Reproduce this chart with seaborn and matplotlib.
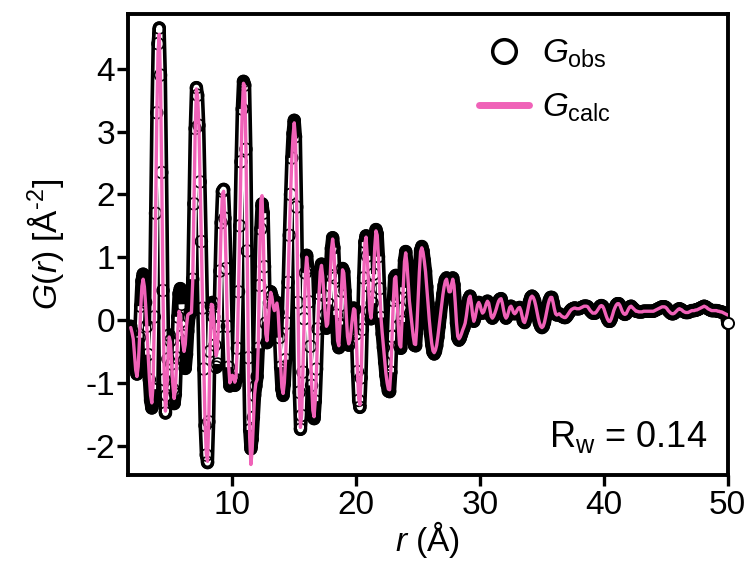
import numpy as np
import pandas as pd
import matplotlib
matplotlib.use("Agg")
import matplotlib.pyplot as plt
from matplotlib.lines import Line2D
import seaborn as sns

# ---------------- data ----------------
R_START = 1.8      # first r value (Angstrom)
R_STEP = 0.1       # grid step (Angstrom)

G_calc = [
    -0.12, -0.20,
    -0.30, -0.55, -0.80, -0.90, -0.74, -0.33, 0.17, 0.54, 0.65, 0.53,
    0.24, -0.12, -0.55, -0.91, -1.20, -1.32, -1.04, 0.03, 1.62, 3.20,
    4.26, 4.55, 3.80, 2.30, 0.47, -0.91, -1.45, -1.19, -0.63, -0.27,
    -0.35, -0.68, -1.04, -1.25, -1.12, -0.67, -0.15, 0.14, 0.08, -0.13,
    -0.37, -0.50, -0.39, -0.09, 0.08, 0.10, 0.11, 0.12, 0.60, 1.80,
    3.00, 3.68, 3.56, 3.10, 2.20, 1.25, 0.19, -0.77, -1.66, -2.13,
    -2.25, -1.59, -0.47, 0.25, 0.24, -0.03, -0.37, -0.57, -0.47, 0.03,
    0.81, 1.53, 2.01, 2.05, 1.60, 0.82, -0.07, -0.72, -1.00, -0.95,
    -0.88, -0.90, -0.99, -0.91, -0.42, 0.45, 1.50, 2.52, 3.34, 3.77,
    3.72, 2.72, 1.13, -0.65, -1.87, -2.30, -2.08, -1.62, -1.18, -1.00,
    -0.95, -0.38, 0.89, 1.90, 1.98, 1.34, 0.45, -0.22, -0.33, -0.06,
    0.28, 0.44, 0.37, 0.22, 0.15, 0.21, 0.27, 0.13, -0.26, -0.72,
    -1.07, -1.17, -1.00, -0.63, -0.05, 0.60, 1.34, 1.98, 2.55, 2.93,
    3.14, 2.89, 1.79, 0.28, -1.13, -1.71, -1.50, -0.82, 0.02, 0.73,
    1.00, 0.81, 0.29, -0.40, -1.01, -1.44, -1.54, -1.27, -0.77, -0.14,
    0.41, 0.77, 0.87, 0.69, 0.39, 0.09, -0.10, -0.06, 0.25, 0.70,
    1.12, 1.29, 1.13, 0.67, 0.09, -0.33, -0.41, -0.06, 0.45, 0.80,
    0.75, 0.46, 0.08, -0.26, -0.38, -0.32, -0.15, 0.04, 0.18, 0.16,
    -0.21, -0.80, -1.25, -1.35, -0.90, -0.15, 0.66, 1.22, 1.32, 1.00,
    0.54, 0.15, 0.03, 0.27, 0.72, 1.16, 1.42, 1.35, 1.00, 0.50,
    0.05, -0.20, -0.42, -0.65, -0.85, -1.00, -1.10, -1.11, -0.81, -0.26,
    0.30, 0.66, 0.69, 0.35, -0.09, -0.39, -0.43, -0.02, 0.51, 0.93,
    1.07, 0.90, 0.60, 0.30, 0.12, -0.05, -0.25, -0.38, -0.39, -0.11,
    0.33, 0.76, 1.09, 1.15, 1.08, 0.94, 0.77, 0.53, 0.27, 0.01,
    -0.20, -0.37, -0.49, -0.52, -0.48, -0.40, -0.26, -0.10, 0.07, 0.24,
    0.40, 0.53, 0.62, 0.65, 0.55, 0.45, 0.45, 0.57, 0.65, 0.55,
    0.28, -0.04, -0.26, -0.30, -0.27, -0.22, -0.16, -0.11, -0.05, 0.07,
    0.22, 0.34, 0.38, 0.27, 0.08, -0.02, 0.04, 0.14, 0.24, 0.28,
    0.24, 0.16, 0.11, 0.13, 0.19, 0.26, 0.30, 0.27, 0.17, 0.06,
    0.03, 0.06, 0.11, 0.17, 0.24, 0.30, 0.33, 0.34, 0.27, 0.16,
    0.07, 0.03, 0.06, 0.13, 0.20, 0.22, 0.18, 0.12, 0.10, 0.12,
    0.16, 0.19, 0.20, 0.15, 0.06, -0.02, -0.04, 0.02, 0.10, 0.20,
    0.30, 0.36, 0.38, 0.36, 0.31, 0.23, 0.13, 0.03, -0.05, -0.10,
    -0.12, -0.10, -0.04, 0.05, 0.15, 0.25, 0.32, 0.36, 0.36, 0.28,
    0.18, 0.10, 0.08, 0.09, 0.10, 0.08, 0.06, 0.05, 0.04, 0.04,
    0.06, 0.09, 0.12, 0.15, 0.17, 0.18, 0.19, 0.19, 0.18, 0.18,
    0.18, 0.19, 0.20, 0.21, 0.22, 0.22, 0.22, 0.21, 0.18, 0.15,
    0.13, 0.11, 0.11, 0.11, 0.13, 0.16, 0.19, 0.22, 0.23, 0.22,
    0.18, 0.12, 0.06, 0.01, -0.02, -0.02, 0.02, 0.08, 0.15, 0.20,
    0.24, 0.26, 0.26, 0.23, 0.18, 0.13, 0.10, 0.09, 0.10, 0.14,
    0.18, 0.21, 0.22, 0.20, 0.18, 0.16, 0.14, 0.14, 0.13, 0.13,
    0.13, 0.13, 0.14, 0.14, 0.14, 0.14, 0.14, 0.14, 0.14, 0.14,
    0.14, 0.15, 0.16, 0.17, 0.18, 0.19, 0.20, 0.21, 0.21, 0.21,
    0.20, 0.18, 0.15, 0.13, 0.11, 0.10, 0.10, 0.11, 0.13, 0.15,
    0.17, 0.18, 0.17, 0.16, 0.14, 0.13, 0.12, 0.12, 0.12, 0.13,
    0.14, 0.15, 0.15, 0.15, 0.16, 0.16, 0.17, 0.18, 0.19, 0.20,
    0.21, 0.22, 0.21, 0.20, 0.18, 0.17, 0.16, 0.15, 0.15, 0.15,
    0.15, 0.15, 0.14, 0.14, 0.13, 0.13, 0.12, 0.11, 0.10, 0.09,
    0.08,
]

G_obs = [
    -0.10, -0.18,
    -0.30, -0.55, -0.78, -0.86, -0.70, -0.28, 0.22, 0.62, 0.73, 0.60,
    0.28, -0.10, -0.55, -0.95, -1.28, -1.40, -1.10, 0.05, 1.70, 3.30,
    4.40, 4.65, 3.90, 2.35, 0.47, -0.95, -1.48, -1.20, -0.62, -0.24,
    -0.33, -0.70, -1.10, -1.33, -1.18, -0.60, 0.05, 0.42, 0.50, 0.25,
    -0.25, -0.65, -0.77, -0.55, -0.18, 0.05, 0.12, 0.20, 0.65, 1.85,
    3.05, 3.70, 3.58, 3.10, 2.20, 1.25, 0.19, -0.78, -1.68, -2.15,
    -2.27, -1.62, -0.50, 0.22, 0.28, 0.05, -0.40, -0.75, -0.70, -0.10,
    0.78, 1.55, 2.05, 2.08, 1.62, 0.82, -0.10, -0.75, -1.05, -1.00,
    -0.92, -0.95, -1.04, -0.95, -0.45, 0.45, 1.50, 2.52, 3.36, 3.80,
    3.74, 2.72, 1.10, -0.60, -1.75, -2.05, -1.90, -1.55, -1.20, -1.05,
    -0.90, -0.45, 0.55, 1.45, 1.85, 1.70, 0.85, -0.05, -0.36, -0.10,
    0.28, 0.45, 0.38, 0.24, 0.17, 0.23, 0.28, 0.12, -0.28, -0.75,
    -1.10, -1.20, -1.02, -0.63, -0.05, 0.60, 1.35, 2.00, 2.58, 2.97,
    3.18, 2.92, 1.80, 0.28, -1.15, -1.74, -1.52, -0.83, 0.02, 0.75,
    1.03, 0.83, 0.29, -0.42, -1.04, -1.47, -1.57, -1.29, -0.78, -0.14,
    0.42, 0.79, 0.89, 0.70, 0.39, 0.08, -0.13, -0.08, 0.25, 0.71,
    1.14, 1.31, 1.15, 0.67, 0.08, -0.35, -0.44, -0.07, 0.46, 0.82,
    0.77, 0.46, 0.07, -0.28, -0.40, -0.34, -0.16, 0.04, 0.19, 0.17,
    -0.22, -0.82, -1.28, -1.39, -0.92, -0.15, 0.67, 1.24, 1.34, 1.02,
    0.54, 0.14, 0.02, 0.27, 0.73, 1.18, 1.44, 1.37, 1.01, 0.50,
    0.04, -0.22, -0.44, -0.67, -0.88, -1.03, -1.13, -1.14, -0.83, -0.26,
    0.31, 0.68, 0.71, 0.35, -0.10, -0.41, -0.45, -0.03, 0.52, 0.95,
    1.09, 0.92, 0.61, 0.30, 0.11, -0.07, -0.27, -0.40, -0.41, -0.12,
    0.33, 0.77, 1.11, 1.17, 1.10, 0.95, 0.78, 0.53, 0.26, 0.00,
    -0.22, -0.39, -0.51, -0.54, -0.50, -0.41, -0.27, -0.10, 0.07, 0.25,
    0.41, 0.55, 0.64, 0.67, 0.56, 0.45, 0.45, 0.58, 0.67, 0.56,
    0.28, -0.05, -0.28, -0.32, -0.29, -0.23, -0.17, -0.12, -0.05, 0.07,
    0.22, 0.34, 0.38, 0.27, 0.08, -0.02, 0.04, 0.14, 0.24, 0.28,
    0.24, 0.16, 0.11, 0.13, 0.19, 0.26, 0.30, 0.27, 0.17, 0.06,
    0.03, 0.06, 0.11, 0.17, 0.24, 0.30, 0.33, 0.34, 0.27, 0.16,
    0.07, 0.03, 0.06, 0.13, 0.20, 0.22, 0.18, 0.12, 0.10, 0.12,
    0.16, 0.19, 0.20, 0.15, 0.06, -0.02, -0.04, 0.02, 0.10, 0.20,
    0.30, 0.36, 0.38, 0.36, 0.31, 0.23, 0.13, 0.03, -0.05, -0.10,
    -0.12, -0.10, -0.04, 0.05, 0.15, 0.25, 0.32, 0.36, 0.36, 0.28,
    0.18, 0.10, 0.08, 0.09, 0.10, 0.08, 0.06, 0.05, 0.04, 0.04,
    0.06, 0.09, 0.12, 0.15, 0.17, 0.18, 0.19, 0.19, 0.18, 0.18,
    0.18, 0.19, 0.20, 0.21, 0.22, 0.22, 0.22, 0.21, 0.18, 0.15,
    0.13, 0.11, 0.11, 0.11, 0.13, 0.16, 0.19, 0.22, 0.23, 0.22,
    0.18, 0.12, 0.06, 0.01, -0.02, -0.02, 0.02, 0.08, 0.15, 0.20,
    0.24, 0.26, 0.26, 0.23, 0.18, 0.13, 0.10, 0.09, 0.10, 0.14,
    0.18, 0.21, 0.22, 0.20, 0.18, 0.16, 0.14, 0.14, 0.13, 0.13,
    0.13, 0.13, 0.14, 0.14, 0.14, 0.14, 0.14, 0.14, 0.14, 0.14,
    0.14, 0.15, 0.16, 0.17, 0.18, 0.19, 0.20, 0.21, 0.21, 0.21,
    0.20, 0.18, 0.15, 0.13, 0.11, 0.10, 0.10, 0.11, 0.13, 0.15,
    0.17, 0.18, 0.17, 0.16, 0.14, 0.13, 0.12, 0.12, 0.12, 0.13,
    0.14, 0.15, 0.15, 0.15, 0.16, 0.16, 0.17, 0.18, 0.19, 0.20,
    0.21, 0.22, 0.21, 0.20, 0.18, 0.17, 0.16, 0.15, 0.15, 0.15,
    0.15, 0.15, 0.14, 0.14, 0.13, 0.13, 0.12, 0.11, 0.10, 0.08,
    -0.05,
]

x_ticks = [10, 20, 30, 40, 50]
y_ticks = [-2, -1, 0, 1, 2, 3, 4]
legend_labels = [r"$G_{\mathrm{obs}}$", r"$G_{\mathrm{calc}}$"]
rw_text = r"R$_{\mathrm{w}}$ = 0.14"
x_label = r"$r$ (Å)"
y_label = "$G$($r$) [Å$^{\\mathrm{\u20102}}$]"

assert len(G_calc) == len(G_obs), (len(G_calc), len(G_obs))
r = np.round(R_START + R_STEP * np.arange(len(G_obs)), 2)
df = pd.DataFrame({"r": r, "obs": G_obs, "calc": G_calc})

# ---------------- style ----------------
sns.set_theme(style="ticks")
plt.rcParams["font.family"] = ["Liberation Sans", "DejaVu Sans"]
plt.rcParams["mathtext.fontset"] = "custom"
plt.rcParams["mathtext.rm"] = "Liberation Sans"
plt.rcParams["mathtext.it"] = "Liberation Sans:italic"
plt.rcParams["mathtext.bf"] = "Liberation Sans:bold"
plt.rcParams["axes.unicode_minus"] = False
for key in ["text.color", "axes.labelcolor", "xtick.color", "ytick.color",
            "axes.edgecolor"]:
    plt.rcParams[key] = "black"

PINK = "#F062B8"

fig = plt.figure(figsize=(7.51, 5.67), dpi=100)
ax = fig.add_axes([0.170, 0.162, 0.799, 0.813])

# observed: dense open circles forming a thick band
sns.lineplot(data=df, x="r", y="obs", ax=ax, color="black", lw=9.5,
             sort=False, errorbar=None, zorder=2, solid_capstyle="round")
# white interior of the circle chain where the curve is steep
obs_arr = df["obs"].to_numpy()
steep_seg = np.abs(np.diff(obs_arr)) > 0.45
keep = np.zeros(len(obs_arr), bool)
keep[:-1] |= steep_seg
keep[1:] |= steep_seg
ax.plot(df["r"], np.where(keep, obs_arr, np.nan), color="white", lw=4.3,
        zorder=2.2, solid_capstyle="butt")
sns.scatterplot(data=df, x="r", y="obs", ax=ax, marker="o", s=72,
                facecolor="none", edgecolor="black", linewidth=1.2,
                zorder=3, legend=False)
# last observed point sits on the right spine (drawn unclipped, white face)
sns.scatterplot(data=df.tail(1), x="r", y="obs", ax=ax, marker="o", s=64,
                facecolor="white", edgecolor="black", linewidth=1.4,
                zorder=3.5, clip_on=False, legend=False)
# calculated
sns.lineplot(data=df, x="r", y="calc", ax=ax, color=PINK, lw=2.4,
             sort=False, errorbar=None, zorder=4)

ax.set_xlim(1.55, 50)
ax.set_ylim(-2.47, 4.87)
ax.set_xticks(x_ticks)
ax.set_yticks(y_ticks)
ax.set_xticklabels([str(v) for v in x_ticks])
ax.set_yticklabels([str(v) for v in y_ticks])

for s in ax.spines.values():
    s.set_linewidth(2.8)
    s.set_color("black")
ax.tick_params(direction="out", length=8, width=2.4, labelsize=24,
               colors="black", pad=2.5)
ax.tick_params(axis="y", pad=1)

ax.set_xlabel(x_label, fontsize=24, labelpad=-1)
ax.set_ylabel(y_label, fontsize=24, labelpad=14)

h_obs = Line2D([], [], marker="o", ls="none", mfc="white", mec="black",
               mew=2.5, ms=17)
h_calc = Line2D([], [], color=PINK, lw=5)
ax.legend([h_obs, h_calc], legend_labels, loc="upper left",
          bbox_to_anchor=(0.585, 0.95), frameon=False, fontsize=24,
          handlelength=1.5, handletextpad=0.4, labelspacing=0.65,
          borderpad=0.0, borderaxespad=0.0)

ax.text(0.965, 0.043, rw_text, transform=ax.transAxes, ha="right",
        va="bottom", fontsize=26)

fig.savefig("out.png", dpi=100)
